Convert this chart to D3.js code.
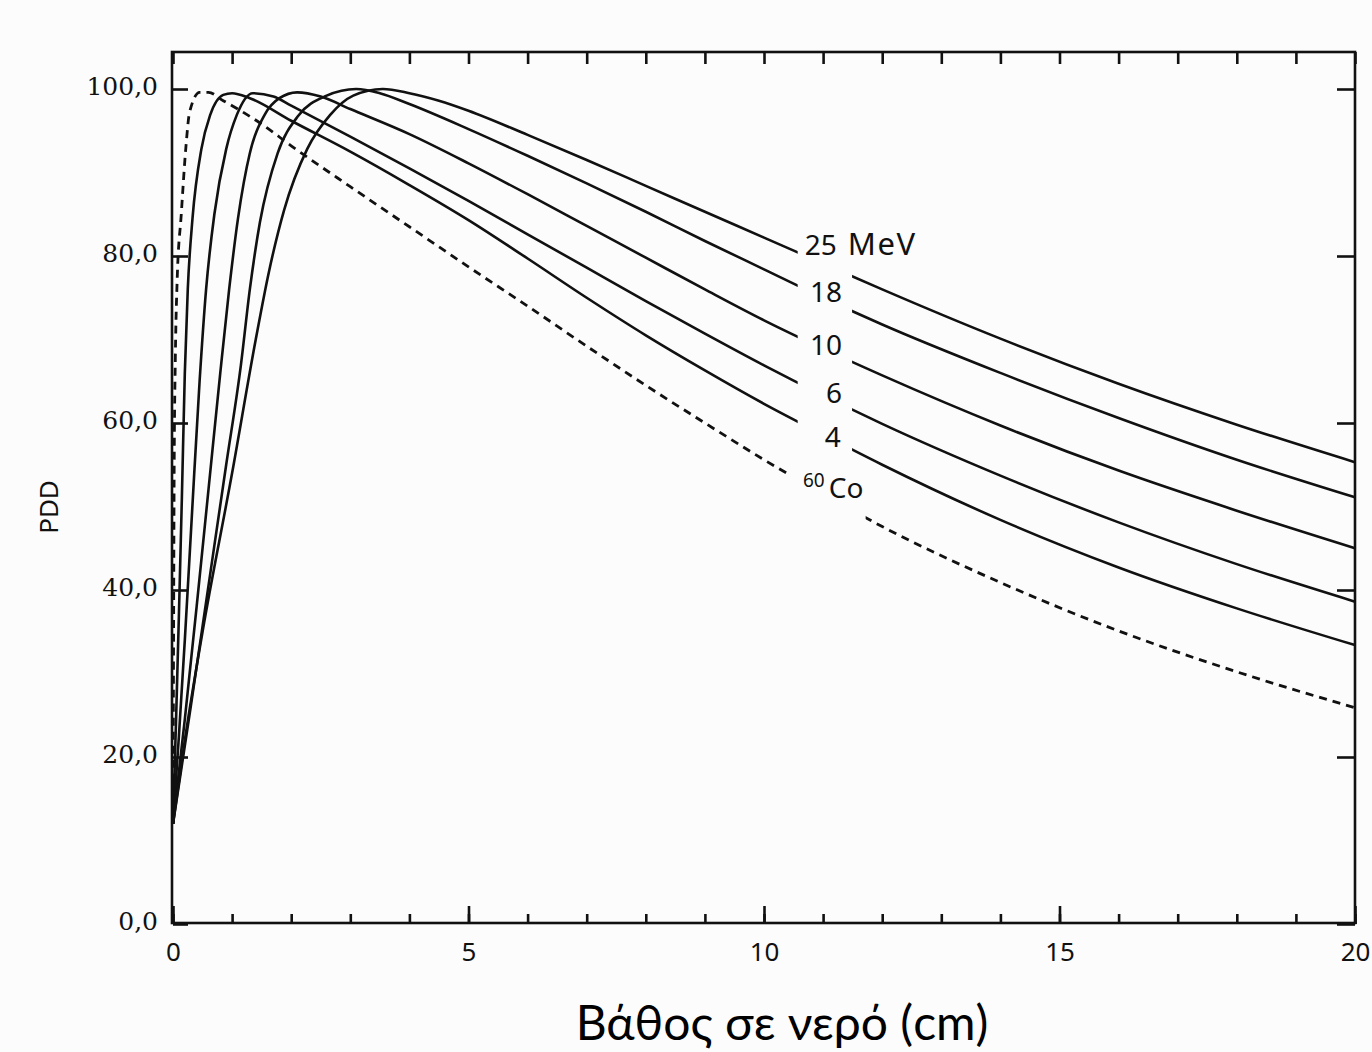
<!DOCTYPE html>
<html>
<head>
<meta charset="utf-8">
<script src="https://cdn.jsdelivr.net/npm/d3@7"></script>
<style>
  body { margin: 0; background: #fcfcfc; }
  svg { display: block; }
</style>
</head>
<body>
<div id="chart"></div>
<script>
// PDD curves, depth in cm vs percent depth dose
const co60 = [[0,12],[0.01,35],[0.02,55],[0.04,68],[0.07,77],[0.14,85],[0.22,93.2],[0.28,97.2],[0.45,99.6],[0.6,99.6],
  [0.85,98.6],[1,98.0],[1.5,95.8],[2,93.2],[3,88.3],[4,83.5],[5,78.7],[6,74.0],[7,69.2],[8,64.5],[9,60.0],[10,55.6],
  [11,51.5],[12,47.6],[14,40.9],[16,35.1],[18,30.2],[20,25.9]];
const mv4 = [[0,12],[0.05,24],[0.1,37],[0.15,51],[0.2,66],[0.25,76],[0.33,84.5],[0.48,92.8],[0.63,96.9],[0.85,99.3],
  [1.0,99.5],[1.3,98.9],[2,96.2],[3,92.5],[4,88.5],[5,84.3],[6,79.7],[7,75.0],[8,70.5],[9,66.3],[10,62.3],[11,58.6],
  [12,55.0],[14,48.4],[16,42.7],[18,37.8],[20,33.4]];
const mv6 = [[0,12],[0.1,22.5],[0.2,34],[0.32,49],[0.45,65],[0.56,76],[0.7,85],[0.9,92.8],[1.08,96.9],[1.35,99.5],
  [1.7,99.1],[2,98.0],[3,94.3],[4,90.5],[5,86.6],[6,82.6],[7,78.6],[8,74.6],[9,70.7],[10,66.9],[11,63.3],
  [12,59.9],[14,53.7],[16,48.1],[18,43.1],[20,38.6]];
const mv10 = [[0,12],[0.2,24.5],[0.4,38],[0.6,52],[0.8,66],[0.95,76],[1.1,84.5],[1.3,92.3],[1.55,96.9],[1.8,98.9],
  [2.1,99.6],[2.5,99.1],[3,97.6],[4,94.6],[5,91.1],[6,87.4],[7,83.6],[8,79.8],[9,76.0],[10,72.3],[11,68.9],
  [12,65.7],[14,59.7],[16,54.3],[18,49.5],[20,45.0]];
const mv18 = [[0,12],[0.3,26],[0.6,40.5],[0.9,55],[1.15,67],[1.3,76],[1.47,84],[1.77,92.3],[2.12,96.8],[2.6,99.2],
  [3.1,100],[3.5,99.5],[4,98.2],[5,95.2],[6,92.0],[7,88.7],[8,85.3],[9,81.8],[10,78.4],[11,75.0],
  [12,71.8],[14,66.0],[16,60.6],[18,55.6],[20,51.1]];
const mv25 = [[0,12],[0.2,22],[0.5,35],[1.0,54],[1.4,70],[1.62,78],[1.88,85.5],[2.27,92.8],[2.66,96.9],[3.05,99.2],
  [3.55,100],[4,99.5],[4.5,98.6],[5,97.4],[6,94.5],[7,91.5],[8,88.4],[9,85.3],[10,82.2],[11,79.1],
  [12,76.0],[14,70.1],[16,64.7],[18,59.8],[20,55.3]];

const seriesData = [co60, mv4, mv6, mv10, mv18, mv25];
const seriesDashed = [true, false, false, false, false, false];

const xTickLabels = [0, 5, 10, 15, 20];
const yTickLabels = [0, 20, 40, 60, 80, 100];

const width = 1372, height = 1052;
const margin = {top: 52, right: 17, bottom: 128, left: 173};

const svg = d3.select("#chart").append("svg")
  .attr("width", width)
  .attr("height", height);

const x = d3.scaleLinear().domain([0, 20]).range([margin.left, width - margin.right]);
const y = d3.scaleLinear().domain([0, 100]).range([924, 89]);

const ink = "#111";

// frame
svg.append("rect")
  .attr("x", x(0) - 1)
  .attr("y", margin.top)
  .attr("width", x(20) - x(0) + 1)
  .attr("height", y(0) - margin.top - 1)
  .attr("fill", "none")
  .attr("stroke", ink)
  .attr("stroke-width", 2.6);

const fmt = d => d3.format(".1f")(d).replace(".", ",");

// left axis
const yAxisLeft = svg.append("g")
  .attr("transform", "translate(" + x(0) + ",0)")
  .call(d3.axisLeft(y).tickValues(yTickLabels).tickSize(-15).tickPadding(15).tickFormat(fmt));
yAxisLeft.selectAll("text")
  .attr("dy", "0.22em")
  .style("font-family", "'DejaVu Serif', serif")
  .style("font-size", "25px")
  .attr("fill", ink);

// right axis ticks
svg.append("g")
  .attr("transform", "translate(" + x(20) + ",0)")
  .call(d3.axisRight(y).tickValues(yTickLabels).tickSize(-18).tickFormat(""));

// bottom axis, minor and major ticks
svg.append("g")
  .attr("transform", "translate(0," + y(0) + ")")
  .call(d3.axisBottom(x).tickValues(d3.range(0, 21)).tickSize(-10).tickFormat(""));
const xAxis = svg.append("g")
  .attr("transform", "translate(0," + y(0) + ")")
  .call(d3.axisBottom(x).tickValues(xTickLabels).tickSize(-18).tickPadding(19).tickFormat(d3.format("d")));
xAxis.selectAll("text")
  .style("font-family", "'Noto Sans', sans-serif")
  .style("font-size", "26px")
  .attr("fill", ink);

// top axis ticks
svg.append("g")
  .attr("transform", "translate(0," + margin.top + ")")
  .call(d3.axisTop(x).tickValues(d3.range(0, 21)).tickSize(-12).tickFormat(""));

svg.selectAll(".domain").remove();
svg.selectAll(".tick line").attr("stroke", ink).attr("stroke-width", 2.6);

// clip paths leave a gap for the curve labels
const gaps = [[10.39, 11.72], [10.57, 11.49]];
const defs = svg.append("defs");
gaps.forEach((g, i) => {
  const cp = defs.append("clipPath").attr("id", "gap" + i);
  cp.append("rect").attr("x", 0).attr("y", 0).attr("width", x(g[0])).attr("height", height);
  cp.append("rect").attr("x", x(g[1])).attr("y", 0).attr("width", width - x(g[1])).attr("height", height);
});

const line = d3.line()
  .x(d => x(d[0]))
  .y(d => y(d[1]))
  .curve(d3.curveMonotoneX);

svg.selectAll(".pdd")
  .data(seriesData)
  .enter().append("path")
  .attr("class", "pdd")
  .attr("d", line)
  .attr("fill", "none")
  .attr("stroke", ink)
  .attr("stroke-width", (d, i) => seriesDashed[i] ? 2.8 : 2.6)
  .attr("stroke-dasharray", (d, i) => seriesDashed[i] ? "8,6" : null)
  .attr("clip-path", (d, i) => seriesDashed[i] ? "url(#gap0)" : "url(#gap1)");

// curve labels
const labelFont = "'Noto Sans', sans-serif";
const lbl = (txt, dx, py, anchor) => svg.append("text")
  .attr("x", x(dx)).attr("y", y(py))
  .attr("text-anchor", anchor)
  .style("font-family", labelFont)
  .style("font-size", "28px")
  .attr("fill", ink)
  .text(txt);

const mevLabel = lbl("", 10.69, 80.1, "start");
mevLabel.append("tspan").text("25");
mevLabel.append("tspan").attr("dx", 11).style("font-size", "31px").style("letter-spacing", "1.5px").text("MeV");
lbl("18", 11.32, 74.5, "end");
lbl("10", 11.32, 68.1, "end");
lbl("6", 11.32, 62.4, "end");
lbl("4", 11.30, 57.1, "end");

const coLabel = svg.append("text")
  .attr("x", x(10.66)).attr("y", y(51.0))
  .style("font-family", labelFont)
  .attr("fill", ink);
coLabel.append("tspan").attr("dy", -11).style("font-size", "19px").text("60");
coLabel.append("tspan").attr("dx", 4).attr("dy", 11).style("font-size", "28px").text("Co");

// axis titles
svg.append("text")
  .attr("transform", "translate(58," + 507 + ") rotate(-90)")
  .attr("text-anchor", "middle")
  .style("font-family", "'Noto Sans', sans-serif")
  .style("font-size", "26px")
  .attr("fill", ink)
  .text("PDD");

svg.append("text")
  .attr("x", 782)
  .attr("y", 1040)
  .attr("text-anchor", "middle")
  .style("font-family", "Lato, sans-serif")
  .style("font-size", "48px")
  .attr("fill", "#000")
  .text("Βάθος σε νερό (cm)");
</script>
</body>
</html>
